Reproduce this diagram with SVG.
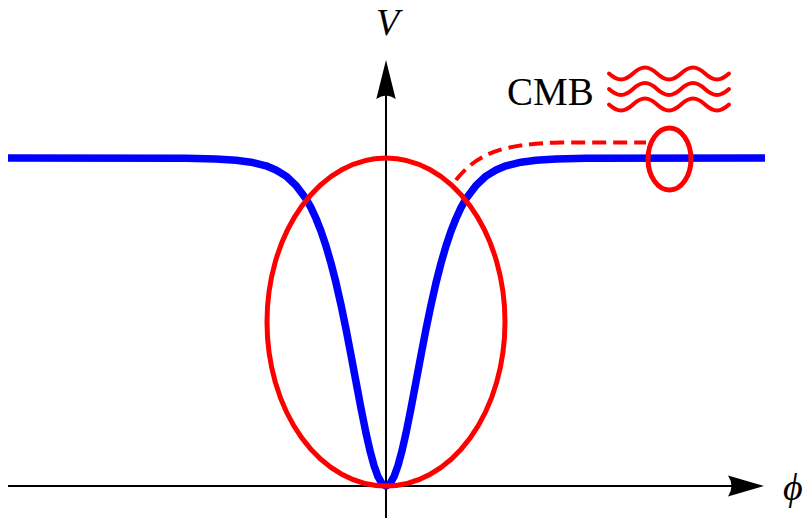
<svg xmlns="http://www.w3.org/2000/svg" width="808" height="518" viewBox="0 0 808 518">
<style>
.axis{stroke:#000;stroke-width:2;fill:none}
.arrowhead{fill:#000;stroke:none}
.red{stroke:#ff0000;fill:none}
.lbl{font-family:"Liberation Serif","DejaVu Serif",serif;font-size:38px;fill:#000}
.it{font-style:italic}
</style>
<rect width="808" height="518" fill="#fff"/>
<g id="axes">
<line class="axis" x1="8" y1="486" x2="740" y2="486"/>
<path class="arrowhead" d="M764,486 L728,475.5 Q735,486 728,496.5 Z"/>
<line class="axis" x1="386" y1="518" x2="386" y2="85"/>
<path class="arrowhead" d="M386,60 L376.3,99 Q386,92 395.7,99 Z"/>
<text class="lbl it" x="376" y="35">V</text>
<text class="lbl it" x="783" y="500">ϕ</text>
</g>
<g id="potential">
<polyline fill="none" stroke="#0000ff" stroke-width="7.5" stroke-linejoin="round" points="8,158 186,158.26 216,158.94 236,160.2 251,162.2 266,165.8 276,170 286,176.1 296,185.4 306,198.8 311,207.7 316,218.5 321,231.1 326,246 331,263.2 336,282.8 341,304.9 346,329.1 351,355.1 356,381.8 361,408.34 366,433.12 370,450.73 374,465.52 378,476.68 382,483.64 386,486 390,483.64 394,476.68 398,465.52 402,450.73 406,433.12 411,408.34 416,381.8 421,355.1 426,329.1 431,304.9 436,282.8 441,263.2 446,246 451,231.1 456,218.5 461,207.7 466,198.8 476,185.4 486,176.1 496,170 506,165.8 521,162.2 536,160.2 556,158.94 586,158.26 765,158"/>
</g>
<g id="big-ellipse">
<ellipse class="red" cx="386" cy="322" rx="119" ry="164" stroke-width="5"/>
</g>
<g id="small-ellipse">
<ellipse class="red" cx="669.5" cy="159" rx="21.5" ry="31" stroke-width="5"/>
</g>
<g id="connectors">
<path class="red" stroke-width="4" stroke-dasharray="14 7" d="M456,180 C478,152 505,144 560,142.5 L646,142.5"/>
</g>
<g id="cmb">
<text class="lbl" x="507" y="105" style="font-size:39px">CMB</text>
<g class="red" stroke-width="4" stroke-linecap="round">
<path d="M609,73.5 C617.7,81.5 624.3,81.5 633,73.5 S648.3,65.5 657,73.5 S672.3,81.5 681,73.5 S696.3,65.5 705,73.5 S720.3,81.5 729,73.5"/>
<path d="M609,73.5 C617.7,81.5 624.3,81.5 633,73.5 S648.3,65.5 657,73.5 S672.3,81.5 681,73.5 S696.3,65.5 705,73.5 S720.3,81.5 729,73.5" transform="translate(0,15.5)"/>
<path d="M609,73.5 C617.7,81.5 624.3,81.5 633,73.5 S648.3,65.5 657,73.5 S672.3,81.5 681,73.5 S696.3,65.5 705,73.5 S720.3,81.5 729,73.5" transform="translate(0,31)"/>
</g>
</g>
</svg>
